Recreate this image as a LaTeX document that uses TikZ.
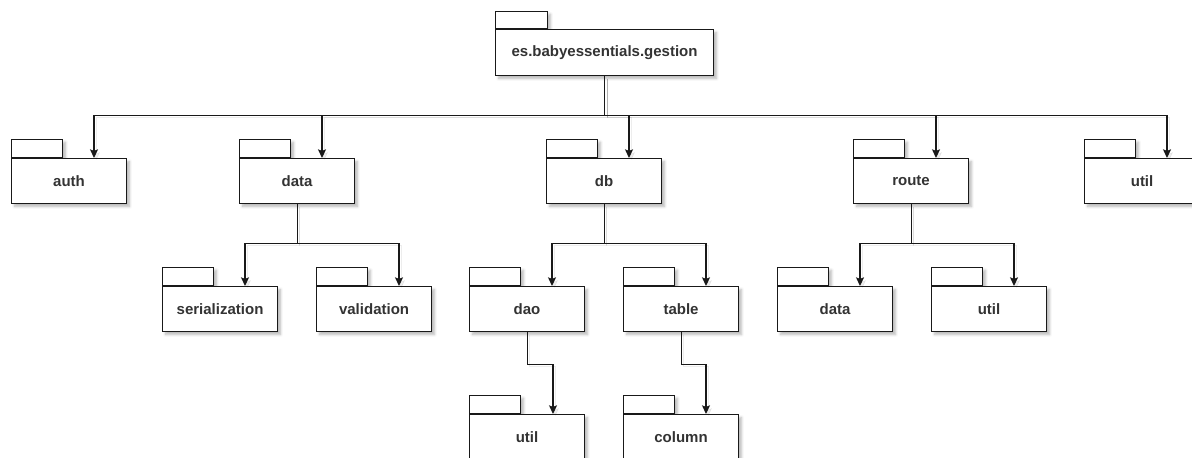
\documentclass[tikz,border=0pt]{standalone}
\usepackage{fontspec}
\setmainfont{Liberation Sans}
\usetikzlibrary{arrows.meta,calc,shadows.blur}

\tikzset{
  pkgshadow/.style={blur shadow={shadow xshift=2.2pt, shadow yshift=-2.2pt,
      shadow blur radius=2pt, shadow blur steps=6, shadow opacity=28}},
  pkgbody/.style={draw=black!90, fill=white, line width=0.85pt,
      minimum width=86.25pt, minimum height=33.75pt, anchor=north west,
      inner sep=0pt, font=\bfseries\fontsize{11.25}{13}\selectfont,
      text=black!80, pkgshadow},
  pkgtab/.style={draw=black!90, fill=white, line width=0.85pt,
      minimum width=38.25pt, minimum height=13.5pt, anchor=south west,
      inner sep=0pt, pkgshadow},
  link/.style={draw=black!90, line width=0.8pt,
      -{Stealth[length=6.5pt,width=6pt,inset=1.2pt]},
      preaction={draw=black, opacity=0.07,
        transform canvas={shift={(1.8pt,-1.8pt)}}}},
}

% package: tab on top of a labelled body
\newcommand\umlpkg[4]{%
  \node[pkgtab] (#1-tab) at (#2,#3) {};
  \node[pkgbody] (#1) at (#2,#3) {#4};
}

\begin{document}
\begin{tikzpicture}[x=0.75pt, y=-0.75pt]
\useasboundingbox (0,0) rectangle (1192,457);
\clip (0,0) rectangle (1192,457);

% root package
\node[pkgtab, minimum width=39pt, minimum height=12.75pt] (root-tab) at (495,29) {};
\node[pkgbody, minimum width=163.5pt, minimum height=34.5pt] (root) at (495,29) {es.babyessentials.gestion};

% first level
\umlpkg{auth}{11}{158}{auth}
\umlpkg{data}{239}{158}{data}
\umlpkg{db}{546}{158}{db}
\umlpkg{route}{853}{158}{route}
\umlpkg{util}{1084}{158}{util}

% second level
\umlpkg{serialization}{162}{286}{serialization}
\umlpkg{validation}{316}{286}{validation}
\umlpkg{dao}{469}{286}{dao}
\umlpkg{table}{623}{286}{table}
\umlpkg{routedata}{777}{286}{data}
\umlpkg{routeutil}{931}{286}{util}

% third level
\umlpkg{daoutil}{469}{414}{util}
\umlpkg{column}{623}{414}{column}

% root -> first level
\foreach \n in {auth,data,db,route,util}
  \draw[link] (root.south) -- ++(0,39) -| ($(\n.north west)+(83,0)$);

% data -> children
\foreach \n in {serialization,validation}
  \draw[link] (data.south) -- ++(0,39) -| ($(\n.north west)+(83,0)$);

% db -> children
\foreach \n in {dao,table}
  \draw[link] (db.south) -- ++(0,39) -| ($(\n.north west)+(83,0)$);

% route -> children
\foreach \n in {routedata,routeutil}
  \draw[link] (route.south) -- ++(0,39) -| ($(\n.north west)+(83,0)$);

% dao -> util, table -> column
\draw[link] (dao.south) -- ++(0,32) -| ($(daoutil.north west)+(84,0)$);
\draw[link] (table.south) -- ++(0,32) -| ($(column.north west)+(83,0)$);
\end{tikzpicture}
\end{document}
